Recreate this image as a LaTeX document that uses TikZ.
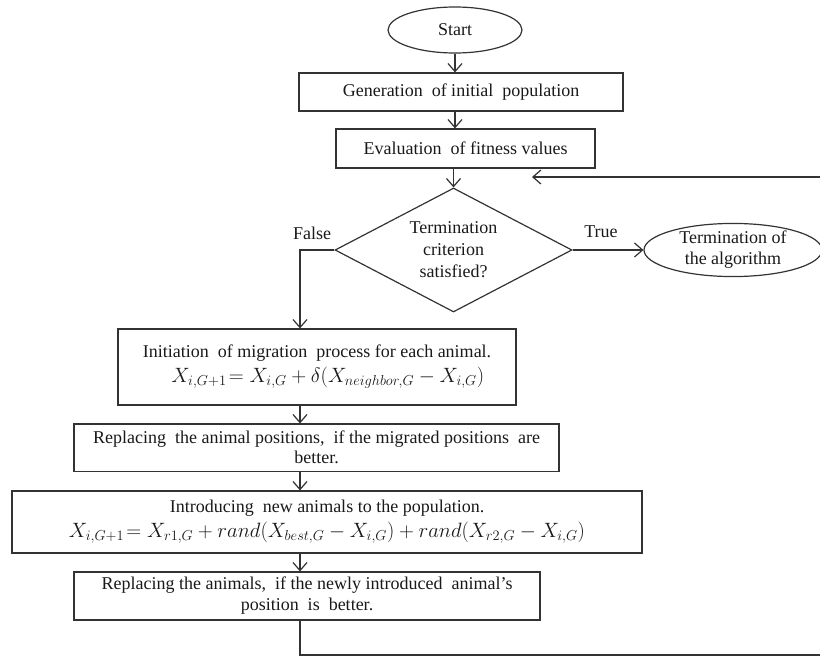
\documentclass[tikz,border=0pt]{standalone}
\usepackage{fontspec}
\setmainfont{Liberation Serif}
\usetikzlibrary{shapes.geometric,arrows.meta}
\newcommand{\mathbig}{\fontsize{19.5}{22}\selectfont}
\begin{document}
\begin{tikzpicture}[x=1pt,y=-1pt,
  every node/.style={font=\fontsize{18}{22}\selectfont, text=black!90},
  box/.style={draw=black!80, line width=1.2pt, rectangle, inner sep=0pt, align=center},
  oval/.style={draw=black!80, line width=1.2pt, ellipse, inner sep=0pt, align=center},
  dia/.style={draw=black!80, line width=1.2pt, diamond, inner sep=0pt, align=center, aspect=1.91},
  arr/.style={draw=black!80, line width=1.2pt, -{Straight Barb[length=8pt,width=14pt]}},
  lbl/.style={inner sep=0pt}]
\useasboundingbox (0,0) rectangle (820,656);
\node[oval, minimum width=134pt, minimum height=46pt] (start) at (455,30) {Start};
\node[box, minimum width=324pt, minimum height=38pt] (gen) at (461,92) {Generation\ \ of initial\ \ population};
\node[box, minimum width=259pt, minimum height=39pt] (eval) at (465.5,148.5) {Evaluation\ \ of fitness values};
\node[dia, minimum width=237pt, minimum height=124pt] (dec) at (453.5,250) {Termination\\criterion\\satisfied?};
\node[oval, minimum width=178pt, minimum height=50pt, font=\fontsize{18}{21}\selectfont] (term) at (733,250) {Termination of\\the algorithm};
\node[lbl] (false) at (312,233) {False};
\node[lbl] (true) at (601,232) {True};
\node[box, minimum width=398pt, minimum height=76pt, font=\fontsize{18}{25}\selectfont] (mig) at (317,367)
  {Initiation\ \ of migration\ \ process for each animal.\\ \hspace*{1.2em}{\mathbig$X_{i,G+1}\!= X_{i,G} + \delta(X_{neighbor,G} - X_{i,G})$}};
\node[box, minimum width=485pt, minimum height=47.5pt, font=\fontsize{18}{20}\selectfont] (rep1) at (316.5,447.75)
  {Replacing\ \ the animal positions,\ \ if the migrated positions\ \ are\\better.};
\node[box, minimum width=630pt, minimum height=62pt, font=\fontsize{18}{25}\selectfont] (intro) at (327,522)
  {Introducing\ \ new animals to the population.\\ {\mathbig$X_{i,G+1}\!= X_{r1,G} + rand\bigl(X_{best,G} - X_{i,G}\bigr) + rand(X_{r2,G} - X_{i,G})$}};
\node[box, minimum width=466pt, minimum height=48pt, font=\fontsize{18}{21}\selectfont] (rep2) at (307,596)
  {Replacing the animals,\ \ if the newly introduced\ \ animal's\\position\ \ is\ \ better.};
\coordinate (col) at (300,250);
\coordinate (loopin) at (532,177);
\coordinate (rb) at (821,655);
\draw[arr] (start.south) -- (start.south |- gen.north);
\draw[arr] (gen.south -| start.south) -- (eval.north -| start.south);
\draw[arr] (eval.south -| dec.north) -- (dec.north);
\draw[arr] (dec.east) -- (term.west);
\draw[arr] (dec.west) -- (col) -- (col |- mig.north);
\draw[arr] (mig.south -| col) -- (rep1.north -| col);
\draw[arr] (rep1.south -| col) -- (intro.north -| col);
\draw[arr] (intro.south -| col) -- (rep2.north -| col);
\draw[arr] (rep2.south -| col) -- (col |- rb) -- (rb) -- (rb |- loopin) -- (loopin);
\end{tikzpicture}
\end{document}
